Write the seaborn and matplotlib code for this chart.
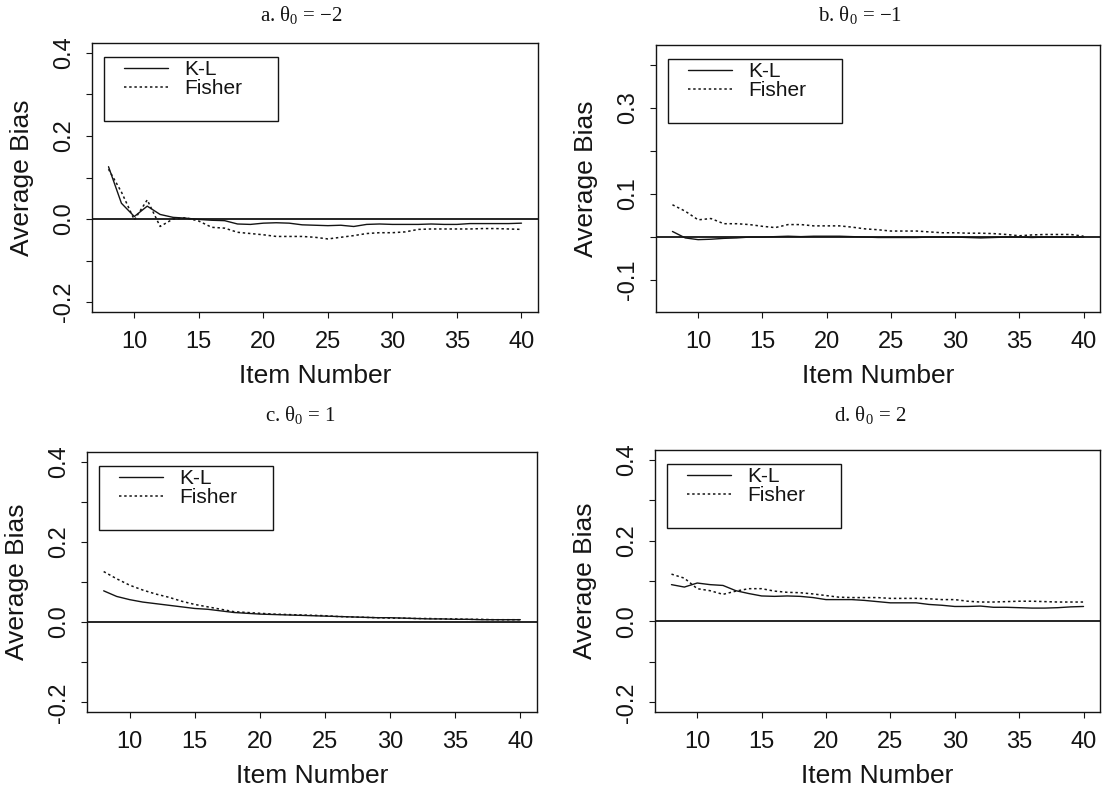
import matplotlib
matplotlib.use("Agg")
import matplotlib.pyplot as plt
from matplotlib.patches import Rectangle
import seaborn as sns

# ---- data -------------------------------------------------------------
items = list(range(8, 41))

kl_a = [0.126, 0.038, 0.006, 0.031, 0.011, 0.004, 0.002, -0.001, -0.003, -0.004,
        -0.012, -0.013, -0.010, -0.009, -0.010, -0.014, -0.015, -0.016, -0.015, -0.018,
        -0.013, -0.012, -0.013, -0.013, -0.013, -0.012, -0.013, -0.013, -0.011, -0.011,
        -0.011, -0.011, -0.010]
fisher_a = [0.120, 0.065, -0.002, 0.046, -0.018, 0.000, 0.003, -0.005, -0.020, -0.022,
            -0.032, -0.035, -0.038, -0.042, -0.042, -0.042, -0.044, -0.048, -0.044, -0.040,
            -0.035, -0.033, -0.033, -0.031, -0.025, -0.024, -0.024, -0.024, -0.024, -0.023,
            -0.023, -0.024, -0.025]

kl_b = [0.013, -0.002, -0.006, -0.005, -0.003, -0.002, 0.000, 0.000, 0.001, 0.002,
        0.001, 0.002, 0.002, 0.002, 0.001, 0.000, -0.001, -0.001, -0.001, -0.001,
        0.000, 0.000, 0.000, -0.001, -0.002, -0.001, 0.000, 0.000, -0.001, 0.000,
        0.000, 0.000, 0.000]
fisher_b = [0.075, 0.060, 0.040, 0.043, 0.031, 0.031, 0.029, 0.025, 0.022, 0.029,
            0.029, 0.026, 0.026, 0.026, 0.023, 0.019, 0.017, 0.014, 0.014, 0.014,
            0.012, 0.010, 0.010, 0.009, 0.009, 0.008, 0.006, 0.003, 0.005, 0.006,
            0.006, 0.006, 0.002]

kl_c = [0.078, 0.064, 0.056, 0.050, 0.046, 0.042, 0.038, 0.034, 0.032, 0.028,
        0.024, 0.022, 0.020, 0.019, 0.018, 0.017, 0.016, 0.015, 0.014, 0.013,
        0.012, 0.011, 0.011, 0.010, 0.009, 0.008, 0.008, 0.007, 0.007, 0.006,
        0.006, 0.006, 0.006]
fisher_c = [0.126, 0.108, 0.092, 0.080, 0.070, 0.062, 0.052, 0.044, 0.038, 0.032,
            0.026, 0.024, 0.022, 0.020, 0.019, 0.018, 0.017, 0.016, 0.014, 0.013,
            0.012, 0.011, 0.010, 0.010, 0.009, 0.009, 0.008, 0.008, 0.007, 0.007,
            0.006, 0.006, 0.006]

kl_d = [0.091, 0.085, 0.095, 0.091, 0.089, 0.076, 0.069, 0.063, 0.062, 0.063,
        0.062, 0.059, 0.054, 0.054, 0.054, 0.052, 0.049, 0.046, 0.046, 0.046,
        0.042, 0.040, 0.037, 0.037, 0.038, 0.035, 0.035, 0.034, 0.033, 0.033,
        0.034, 0.036, 0.037]
fisher_d = [0.117, 0.107, 0.081, 0.076, 0.067, 0.075, 0.081, 0.081, 0.075, 0.072,
            0.071, 0.068, 0.064, 0.060, 0.059, 0.059, 0.059, 0.057, 0.057, 0.057,
            0.056, 0.054, 0.054, 0.050, 0.048, 0.048, 0.049, 0.050, 0.050, 0.049,
            0.048, 0.048, 0.048]

titles = ["a. θ$_0$ = −2", "b. θ$_0$ = −1", "c. θ$_0$ = 1", "d. θ$_0$ = 2"]
series_names = ["K-L", "Fisher"]

x_ticks = [10, 15, 20, 25, 30, 35, 40]
y_ticks_main = [-0.2, -0.1, 0.0, 0.1, 0.2, 0.3, 0.4]
y_labels_main = ["-0.2", "", "0.0", "", "0.2", "", "0.4"]
y_ticks_b = [-0.1, 0.0, 0.1, 0.2, 0.3, 0.4]
y_labels_b = ["-0.1", "", "0.1", "", "0.3", ""]

# ---- style ------------------------------------------------------------
sns.set_theme(style="white")
plt.rcParams["font.family"] = ["Liberation Sans", "DejaVu Sans"]
plt.rcParams["mathtext.fontset"] = "custom"
plt.rcParams["mathtext.rm"] = "Liberation Serif"
plt.rcParams["mathtext.it"] = "Liberation Serif"

INK = "#141414"
W, H = 1104, 802
fig = plt.figure(figsize=(W / 100, H / 100), dpi=100)

# panel boxes in pixels: left, top, right, bottom
boxes = [(92, 43, 538, 312), (656, 45, 1100, 312),
         (87, 452, 537, 712), (655, 450, 1100, 712)]
ylims = [(-0.224, 0.424), (-0.174, 0.446), (-0.224, 0.424), (-0.224, 0.424)]
title_pos = [(301, 15), (860, 15), (301, 415), (870, 415)]
panels = [(kl_a, fisher_a), (kl_b, fisher_b), (kl_c, fisher_c), (kl_d, fisher_d)]

for i, ((l, t, r, b), (kl, fi)) in enumerate(zip(boxes, panels)):
    wpx, hpx = r - l, b - t
    ax = fig.add_axes([l / W, 1 - b / H, wpx / W, hpx / H])
    ax.axhline(0, color=INK, lw=1.3, zorder=1)
    sns.lineplot(x=items, y=kl, ax=ax, color=INK, lw=1.0, linestyle="-",
                 label=series_names[0], legend=False)
    sns.lineplot(x=items, y=fi, ax=ax, color=INK, lw=1.1,
                 linestyle=(0, (1.6, 1.8)), label=series_names[1], legend=False)
    ax.set_xlim(6.72, 41.28)
    ax.set_ylim(*ylims[i])
    ax.set_xticks(x_ticks)
    ax.set_xticklabels([str(v) for v in x_ticks])
    if i == 1:
        ax.set_yticks(y_ticks_b)
        ax.set_yticklabels(y_labels_b)
    else:
        ax.set_yticks(y_ticks_main)
        ax.set_yticklabels(y_labels_main)
    ax.tick_params(axis="both", direction="out", length=4, width=0.8,
                   colors=INK, labelsize=17, bottom=True, left=True)
    ax.tick_params(axis="x", pad=10)
    ax.tick_params(axis="y", pad=8)
    for lab in ax.get_yticklabels():
        lab.set_rotation(90)
        lab.set_va("center")
    for s in ax.spines.values():
        s.set_color(INK)
        s.set_linewidth(1.0)
    ax.set_xlabel("Item Number", fontsize=19, color=INK)
    ax.set_ylabel("Average Bias", fontsize=19, color=INK)
    ax.xaxis.set_label_coords(0.5, -52 / hpx)
    ax.yaxis.set_label_coords(-58 / wpx, 0.5)

    # legend with a fixed-size frame
    rx, rtop, rw, rh = 12, 14, 174, 64
    ax.add_patch(Rectangle((rx / wpx, 1 - (rtop + rh) / hpx), rw / wpx, rh / hpx,
                           transform=ax.transAxes, fill=False, ec=INK, lw=1.0,
                           zorder=5))
    leg = ax.legend(loc="upper left", bbox_to_anchor=((rx + 20) / wpx, 1 - (rtop + 3) / hpx),
                    frameon=False, fontsize=15, handlelength=2.1, handletextpad=0.8,
                    labelspacing=0.0, borderpad=0, borderaxespad=0)
    for txt in leg.get_texts():
        txt.set_color(INK)

    fig.text(title_pos[i][0] / W, 1 - title_pos[i][1] / H, titles[i],
             ha="center", va="center", fontsize=15, color=INK,
             family=["Liberation Serif", "DejaVu Serif"])

fig.savefig("out.png", dpi=100, facecolor="white")
